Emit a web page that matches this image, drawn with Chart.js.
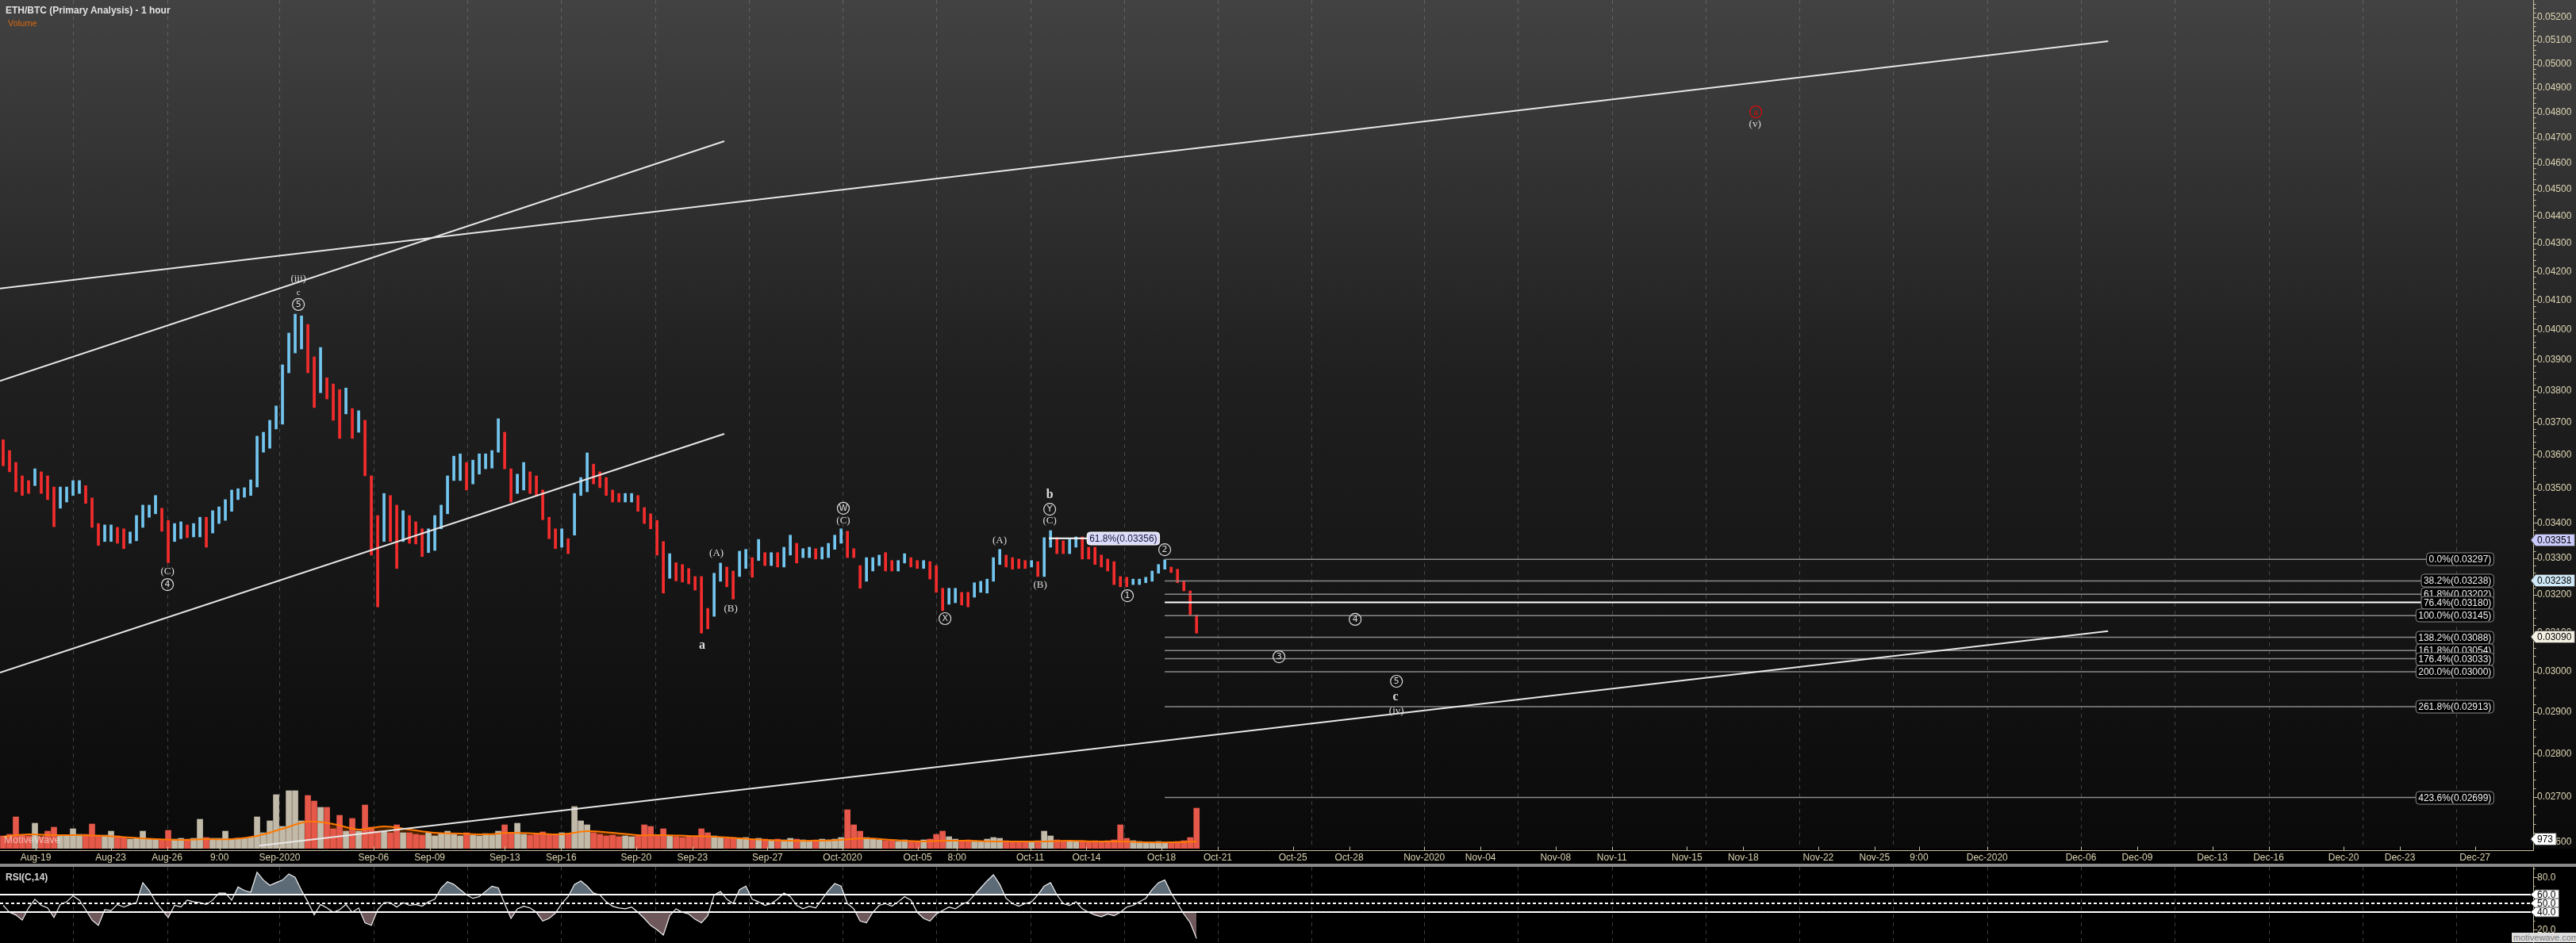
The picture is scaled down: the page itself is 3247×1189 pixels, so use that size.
<!DOCTYPE html>
<html>
<head>
<meta charset="utf-8">
<script src="https://cdn.jsdelivr.net/npm/chart.js@4.4.1/dist/chart.umd.min.js"></script>
<style>
  html, body { margin: 0; padding: 0; background: #000; }
  body { width: 3247px; height: 1189px; position: relative; overflow: hidden; font-family: Arial, "Liberation Sans", sans-serif; }
  #price { position: absolute; left: 0; top: 0; }
  #sep { position: absolute; left: 0; top: 1089px; width: 3247px; height: 4px; background: #8a8a8a; }
  #rsi { position: absolute; left: 0; top: 1093px; }
  .t { position: absolute; white-space: nowrap; }
</style>
</head>
<body>
<canvas id="price" width="3247" height="1089"></canvas>
<div id="sep"></div>
<canvas id="rsi" width="3247" height="96"></canvas>
<div class="t" style="left:7px;top:6px;font:bold 12px Arial;color:#e2e2e2">ETH/BTC (Primary Analysis) - 1 hour</div>
<div class="t" style="left:10px;top:23px;font:11px Arial;color:#d8680e">Volume</div>
<div class="t" style="left:5px;top:1051px;font:13px Arial;color:rgba(255,255,255,0.55)">MotiveWave</div>
<div class="t" style="left:7px;top:1099px;font:bold 12px Arial;color:#d8d8d8">RSI(C,14)</div>
<div class="t" style="left:3166px;top:1176px;font:11px Arial;color:#7a7a7a;background:#dedede;padding:0 2px">motivewave.com</div>
<script>
// x values are days counted from Aug-19 00:00
const xMin = -1.903, xMax = 133.1;
const yMin = 0.025855, yMax = 0.052765;
const volMax = 85600;

const firstBarDay = -1.734;   // first bar, left edge of the chart
const barStepDays = 0.3383;   // one bar = about 8 hours

const barHigh = [
  0.03646,0.03613,0.03577,0.03537,0.03523,0.03558,0.03549,0.03537,0.03504,0.03504,
  0.03504,0.03523,0.03523,0.03508,0.03472,0.03398,0.03394,0.03394,0.03387,0.03383,
  0.03374,0.03421,0.03451,0.03451,0.03479,0.03442,0.03407,0.03398,0.03403,0.03394,
  0.03398,0.03416,0.03416,0.03435,0.03446,0.03467,0.03495,0.03499,0.03502,0.03525,
  0.03657,0.03669,0.03706,0.03751,0.03883,0.03988,0.04052,0.04046,0.04017,0.03909,
  0.03940,0.03841,0.03821,0.03803,0.03808,0.03743,0.03736,0.03706,0.03537,0.03421,
  0.03485,0.03479,0.03451,0.03435,0.03421,0.03403,0.03383,0.03383,0.03421,0.03451,
  0.03537,0.03596,0.03603,0.03577,0.03584,0.03603,0.03603,0.03613,0.03711,0.03669,
  0.03558,0.03542,0.03577,0.03549,0.03537,0.03495,0.03416,0.03383,0.03383,0.03355,
  0.03485,0.03532,0.03606,0.03572,0.03549,0.03532,0.03495,0.03485,0.03485,0.03485,
  0.03479,0.03444,0.03426,0.03407,0.03347,0.03313,0.03288,0.03283,0.03272,0.03250,
  0.03250,0.03164,0.03259,0.03287,0.03276,0.03265,0.03320,0.03325,0.03302,0.03353,
  0.03316,0.03316,0.03316,0.03331,0.03365,0.03342,0.03327,0.03331,0.03327,0.03331,
  0.03342,0.03365,0.03383,0.03376,0.03327,0.03280,0.03302,0.03302,0.03309,0.03316,
  0.03294,0.03294,0.03313,0.03302,0.03294,0.03294,0.03291,0.03280,0.03218,0.03218,
  0.03218,0.03207,0.03207,0.03233,0.03237,0.03243,0.03302,0.03325,0.03309,0.03302,
  0.03298,0.03294,0.03294,0.03291,0.03358,0.03378,0.03358,0.03349,0.03353,0.03360,
  0.03360,0.03331,0.03331,0.03309,0.03298,0.03291,0.03250,0.03248,0.03243,0.03243,
  0.03248,0.03265,0.03283,0.03296,0.03276,0.03270,0.03237,0.03211,0.03147
];
const barLow = [
  0.03567,0.03549,0.03490,0.03479,0.03485,0.03508,0.03485,0.03467,0.03389,0.03442,
  0.03460,0.03479,0.03485,0.03456,0.03387,0.03336,0.03347,0.03347,0.03342,0.03327,
  0.03342,0.03349,0.03387,0.03416,0.03426,0.03376,0.03288,0.03347,0.03355,0.03358,
  0.03360,0.03360,0.03331,0.03371,0.03398,0.03407,0.03433,0.03467,0.03474,0.03479,
  0.03504,0.03608,0.03620,0.03679,0.03694,0.03857,0.03922,0.03935,0.03857,0.03746,
  0.03793,0.03773,0.03706,0.03650,0.03726,0.03650,0.03669,0.03537,0.03309,0.03168,
  0.03347,0.03347,0.03272,0.03347,0.03342,0.03340,0.03305,0.03316,0.03322,0.03383,
  0.03426,0.03523,0.03523,0.03495,0.03513,0.03542,0.03558,0.03560,0.03608,0.03558,
  0.03460,0.03485,0.03495,0.03485,0.03479,0.03409,0.03355,0.03327,0.03331,0.03313,
  0.03365,0.03479,0.03490,0.03513,0.03502,0.03479,0.03460,0.03460,0.03460,0.03460,
  0.03433,0.03398,0.03383,0.03309,0.03205,0.03245,0.03238,0.03235,0.03230,0.03213,
  0.03099,0.03110,0.03143,0.03237,0.03222,0.03189,0.03250,0.03272,0.03248,0.03294,
  0.03280,0.03280,0.03276,0.03276,0.03309,0.03287,0.03302,0.03302,0.03298,0.03298,
  0.03302,0.03325,0.03342,0.03302,0.03302,0.03218,0.03237,0.03265,0.03280,0.03265,
  0.03265,0.03265,0.03287,0.03276,0.03272,0.03272,0.03243,0.03207,0.03158,0.03175,
  0.03179,0.03173,0.03168,0.03194,0.03207,0.03205,0.03237,0.03283,0.03276,0.03270,
  0.03272,0.03272,0.03276,0.03250,0.03250,0.03331,0.03313,0.03313,0.03313,0.03331,
  0.03298,0.03298,0.03283,0.03276,0.03265,0.03228,0.03222,0.03222,0.03228,0.03228,
  0.03233,0.03237,0.03259,0.03270,0.03261,0.03233,0.03211,0.03147,0.03099
];
const volume = [
  1280,1440,3200,1360,1280,2560,1200,1760,2160,1360,
  1360,2000,1440,1440,2480,1360,1360,1760,1280,1120,
  960,1040,1760,960,960,960,1840,960,1040,960,
  1040,2960,1120,1040,1040,1760,960,1040,1040,1120,
  3200,1600,2800,5440,2240,5840,5840,2800,5360,4800,
  4160,4160,2000,3360,1760,3040,1760,4400,2160,1760,
  1760,1600,2400,1600,1600,1440,1360,1600,1280,1520,
  1760,1440,1280,1600,1360,1280,1520,1360,1760,2400,
  1600,2560,1440,1360,1520,1680,1440,1360,1600,1520,
  4240,2800,2400,1600,1440,1280,1360,1200,1280,1200,
  1280,2400,2240,1360,2000,1280,1200,1120,1200,1280,
  2000,1600,1280,1120,1040,1120,1040,1120,960,1040,
  960,880,960,880,1040,960,880,800,880,960,
  880,960,1120,3920,2400,1760,1120,960,880,800,
  800,720,880,800,800,880,960,1440,1760,1200,
  960,800,880,800,720,960,1120,1040,800,720,
  720,640,720,800,1760,1280,880,800,720,720,
  800,720,800,720,800,880,2400,1040,800,720,
  640,640,720,640,640,720,800,1120,4080
];
// volume moving average, one value every 4 bars
const volumeMA = [
  1200,1440,1360,1360,1280,1120,960,880,960,960,
  1280,2000,2720,2480,1920,2240,1920,1600,1520,1440,
  1600,1520,1440,1760,1600,1360,1360,1280,1200,1040,
  880,800,800,880,1040,880,720,800,800,720,
  720,720,800,720,720,640,640,720
];
const rsi = [
  48,40,37,31,45,55,48,45,34,49,
  52,59,54,43,31,25,43,42,49,46,
  49,51,74,65,52,43,34,48,46,54,
  52,51,49,54,62,62,54,69,65,63,
  86,77,71,74,77,84,80,65,52,37,
  49,45,40,43,49,40,45,28,25,43,
  51,51,46,51,48,49,47,52,55,68,
  75,72,66,60,56,58,64,70,68,50,
  33,44,47,45,40,30,33,39,50,58,
  72,76,70,62,60,52,47,45,44,46,
  40,33,25,20,14,36,44,40,38,32,
  28,36,60,64,55,50,66,70,55,52,
  48,50,55,62,58,48,44,47,45,55,
  65,73,70,50,44,30,28,40,48,50,
  47,52,58,54,40,33,30,38,42,46,
  44,49,52,60,68,76,83,72,56,50,
  47,50,52,60,70,74,60,50,48,52,
  44,40,37,35,38,36,40,46,48,52,
  56,66,74,77,62,50,38,28,10
];

const priceTicks = [0.026,0.027,0.028,0.029,0.030,0.031,0.032,0.033,0.034,0.035,0.036,0.037,0.038,0.039,
  0.040,0.041,0.042,0.043,0.044,0.045,0.046,0.047,0.048,0.049,0.050,0.051,0.052];
const xTickDays = [0,4,7,9.8,13,18,21,25,28,32,35,39,43,47,49.1,53,56,60,63,67,70,74,77,81,84,88,91,95,98,100.375,
  104,109,112,116,119,123,126,130];
const xTickLabels = ['Aug-19','Aug-23','Aug-26','9:00','Sep-2020','Sep-06','Sep-09','Sep-13','Sep-16','Sep-20',
  'Sep-23','Sep-27','Oct-2020','Oct-05','8:00','Oct-11','Oct-14','Oct-18','Oct-21','Oct-25','Oct-28','Nov-2020',
  'Nov-04','Nov-08','Nov-11','Nov-15','Nov-18','Nov-22','Nov-25','9:00','Dec-2020','Dec-06','Dec-09','Dec-13',
  'Dec-16','Dec-20','Dec-23','Dec-27'];
const gridDays = [2,7,13,18,23,28,33,38,43,48,53,58,63,68,74,79,84,89,94,99,104,109,114,119,124,129];

// trendlines: [day1, price1, day2, price2]
const trendLines = [
  [-1.903, 0.04140, 110.45, 0.05097],
  [-1.903, 0.03831, 36.70, 0.04686],
  [-1.903, 0.02998, 36.70, 0.03664],
  [11.92, 0.02592, 110.45, 0.03104]
];
const fibPct = ['0.0%','38.2%','61.8%','76.4%','100.0%','138.2%','161.8%','176.4%','200.0%','261.8%','423.6%'];
const fibPrice = [0.03297,0.03238,0.03202,0.03180,0.03145,0.03088,0.03054,0.03033,0.03000,0.02913,0.02699];
const fibStartDay = 60.17, fibEndDay = 131.0;

const waveLabels = [
  ['(C)', 7.02, 0.03263, 'paren'], ['4', 7.02, 0.03228, 'circle'],
  ['(iii)', 14.0, 0.04173, 'paren'], ['c', 14.0, 0.04126, 'small'], ['5', 14.0, 0.04085, 'circle'],
  ['a', 35.52, 0.03067, 'big'],
  ['(A)', 36.28, 0.03315, 'paren'], ['(B)', 37.04, 0.03164, 'paren'],
  ['W', 43.04, 0.03442, 'circle'], ['(C)', 43.04, 0.03405, 'paren'],
  ['X', 48.46, 0.03137, 'circle'],
  ['(A)', 51.37, 0.03349, 'paren'], ['(B)', 53.53, 0.03228, 'paren'],
  ['b', 54.04, 0.03481, 'big'], ['Y', 54.04, 0.03439, 'circle'], ['(C)', 54.04, 0.03407, 'paren'],
  ['1', 58.18, 0.03198, 'circle'], ['2', 60.17, 0.03324, 'circle'],
  ['4', 70.32, 0.03135, 'circle'], ['3', 66.26, 0.03038, 'circle'],
  ['5', 72.52, 0.02976, 'circle'], ['c', 72.47, 0.02937, 'big'], ['(iv)', 72.52, 0.02903, 'paren'],
  ['a', 91.67, 0.04803, 'redcircle'], ['(v)', 91.63, 0.04755, 'paren']
];
const retrace = { pct: '61.8%', price: 0.03356, fromDay: 54.0, toDay: 56.03 };
const axisTags = [[0.03351, '#cacafc'], [0.03238, '#cfe9f8'], [0.03090, '#f4f0e2']];
const lastVolume = 973;

const barDay = barHigh.map((_, i) => firstBarDay + i * barStepDays);
const up = barHigh.map((h, i) => i > 0 && (h + barLow[i]) >= (barHigh[i - 1] + barLow[i - 1]));
const axisColor = '#c9c1a1';
const labelColor = '#dcd4b2';

function noPad(s) { s.paddingTop = 0; s.paddingBottom = 0; s.paddingLeft = 0; s.paddingRight = 0; }

function drawGrid(chart, top, bottom, color) {
  const ctx = chart.ctx, xs = chart.scales.x;
  ctx.save();
  ctx.strokeStyle = color;
  ctx.lineWidth = 1;
  ctx.setLineDash([5, 5]);
  gridDays.forEach(d => {
    const x = Math.round(xs.getPixelForValue(d)) + 0.5;
    ctx.beginPath(); ctx.moveTo(x, top); ctx.lineTo(x, bottom); ctx.stroke();
  });
  ctx.restore();
}

function tag(ctx, x, y, text, bg, h) {
  ctx.font = '12px Arial';
  const w = ctx.measureText(text).width + 6;
  ctx.beginPath();
  ctx.moveTo(x, y);
  ctx.lineTo(x + 6, y - h / 2);
  ctx.lineTo(x + 6 + w, y - h / 2);
  ctx.lineTo(x + 6 + w, y + h / 2);
  ctx.lineTo(x + 6, y + h / 2);
  ctx.closePath();
  ctx.fillStyle = bg; ctx.fill();
  ctx.strokeStyle = '#555'; ctx.lineWidth = 1; ctx.stroke();
  ctx.fillStyle = '#000'; ctx.textAlign = 'left'; ctx.textBaseline = 'middle';
  ctx.fillText(text, x + 8, y + 0.5);
}

function box(ctx, xRight, xLeft, y, text, fill, stroke, color) {
  ctx.font = '12px Arial';
  const w = ctx.measureText(text).width + 6;
  const left = xRight !== null ? xRight - w : xLeft;
  ctx.beginPath();
  if (ctx.roundRect) ctx.roundRect(left, y - 8, w, 16, 4); else ctx.rect(left, y - 8, w, 16);
  ctx.fillStyle = fill; ctx.fill();
  ctx.strokeStyle = stroke; ctx.lineWidth = 1; ctx.stroke();
  ctx.fillStyle = color; ctx.textAlign = 'left'; ctx.textBaseline = 'middle';
  ctx.fillText(text, left + 3, y + 0.5);
}

const priceDecor = {
  id: 'priceDecor',
  beforeDraw(chart) {
    const { ctx, chartArea: a } = chart;
    ctx.save();
    const g = ctx.createLinearGradient(0, 0, 0, a.bottom);
    g.addColorStop(0, '#424242');
    g.addColorStop(0.45, '#1f1f1f');
    g.addColorStop(1, '#0a0a0a');
    ctx.fillStyle = g;
    ctx.fillRect(0, 0, chart.width, a.bottom);
    ctx.fillStyle = '#000';
    ctx.fillRect(0, a.bottom, chart.width, chart.height - a.bottom);
    ctx.restore();
    drawGrid(chart, 0, a.bottom, 'rgba(150,150,150,0.38)');
  },
  afterDatasetsDraw(chart) {
    const { ctx, scales: { x, y } } = chart;
    ctx.save();
    // fib labels
    fibPct.forEach((p, i) => {
      box(ctx, x.getPixelForValue(fibEndDay), null, Math.round(y.getPixelForValue(fibPrice[i])),
        p + '(' + fibPrice[i].toFixed(5) + ')', '#000', '#8c8c8c', '#f2f2f2');
    });
    // retracement label
    box(ctx, null, x.getPixelForValue(retrace.toDay), Math.round(y.getPixelForValue(retrace.price)),
      retrace.pct + '(' + retrace.price.toFixed(5) + ')', '#dcdcfa', '#ffffff', '#141438');
    // wave labels
    waveLabels.forEach(([t, d, p, kind]) => {
      const px = x.getPixelForValue(d), py = y.getPixelForValue(p);
      ctx.textAlign = 'center'; ctx.textBaseline = 'middle';
      if (kind === 'circle' || kind === 'redcircle') {
        const c = kind === 'circle' ? '#dcdcdc' : '#e00a0a';
        ctx.beginPath(); ctx.arc(px, py, 7.5, 0, Math.PI * 2);
        ctx.strokeStyle = c; ctx.lineWidth = 1.2; ctx.stroke();
        ctx.fillStyle = c;
        ctx.font = kind === 'circle' ? '11px "DejaVu Sans"' : '12px "Liberation Serif"';
        ctx.fillText(t, px, py + 0.5);
      } else {
        ctx.fillStyle = '#dcdcdc';
        ctx.font = kind === 'big' ? 'bold 16px "Liberation Serif"' :
                   kind === 'small' ? '11px "Liberation Serif"' : '13px "Liberation Serif"';
        ctx.fillText(t, px, py);
      }
    });
    ctx.restore();
  },
  afterDraw(chart) {
    const { ctx, chartArea: a, scales: { x, y, yv } } = chart;
    ctx.save();
    ctx.strokeStyle = axisColor; ctx.lineWidth = 1;
    const ax = a.right + 0.5, ay = a.bottom + 2.5;
    ctx.beginPath(); ctx.moveTo(ax, 0); ctx.lineTo(ax, ay); ctx.lineTo(0, ay); ctx.stroke();
    // price ticks, minor every 0.0002
    for (let k = 130; k <= 263; k++) {
      const yy = Math.round(y.getPixelForValue(k * 0.0002)) + 0.5;
      const len = k % 5 === 0 ? 5 : 3;
      ctx.beginPath(); ctx.moveTo(ax, yy); ctx.lineTo(ax + len, yy); ctx.stroke();
    }
    xTickDays.forEach(d => {
      const xx = Math.round(x.getPixelForValue(d)) + 0.5;
      ctx.beginPath(); ctx.moveTo(xx, ay); ctx.lineTo(xx, ay - 5); ctx.stroke();
    });
    axisTags.forEach(([p, bg]) => tag(ctx, a.right - 3, Math.round(y.getPixelForValue(p)), p.toFixed(5), bg, 15));
    tag(ctx, a.right - 3, Math.round(yv.getPixelForValue(lastVolume)), String(lastVolume), '#ffffff', 15);
    ctx.restore();
  }
};

const datasets = [
  { type: 'line', yAxisID: 'yv', order: 10,
    data: volumeMA.map((v, k) => ({ x: barDay[k * 4], y: v })),
    fill: 'origin', backgroundColor: '#4a2200', borderWidth: 0, pointRadius: 0, tension: 0.35 },
  { type: 'bar', yAxisID: 'yv', order: 9, grouped: false, barThickness: 7,
    data: volume.map((v, i) => ({ x: barDay[i], y: v })),
    backgroundColor: up.map(u => u ? '#c2baa9' : '#e5584a') },
  { type: 'line', yAxisID: 'yv', order: 8,
    data: volumeMA.map((v, k) => ({ x: barDay[k * 4], y: v })),
    fill: false, borderColor: '#ff7800', borderWidth: 2, pointRadius: 0, tension: 0.35 },
  { type: 'bar', yAxisID: 'y', order: 5, grouped: false, barThickness: 3,
    data: barHigh.map((h, i) => ({ x: barDay[i], y: [barLow[i], h] })),
    backgroundColor: up.map(u => u ? '#73c6f0' : '#f42c2c') }
];
fibPrice.forEach((p, i) => datasets.push({
  type: 'line', yAxisID: 'y', order: 4,
  data: [{ x: fibStartDay, y: p }, { x: fibEndDay, y: p }],
  borderColor: fibPct[i] === '76.4%' ? '#ffffff' : '#8a8a8a', borderWidth: fibPct[i] === '76.4%' ? 2 : 1.5,
  pointRadius: 0, fill: false
}));
datasets.push({
  type: 'line', yAxisID: 'y', order: 4,
  data: [{ x: retrace.fromDay, y: retrace.price }, { x: retrace.toDay, y: retrace.price }],
  borderColor: '#ffffff', borderWidth: 2, pointRadius: 0, fill: false
});
trendLines.forEach(t => datasets.push({
  type: 'line', yAxisID: 'y', order: 3,
  data: [{ x: t[0], y: t[1] }, { x: t[2], y: t[3] }],
  borderColor: '#e6e6e6', borderWidth: 2, pointRadius: 0, fill: false
}));

new Chart(document.getElementById('price'), {
  type: 'bar',
  data: { datasets },
  options: {
    responsive: false, animation: false, devicePixelRatio: 1,
    layout: { padding: 0 },
    plugins: { legend: { display: false }, tooltip: { enabled: false } },
    scales: {
      x: {
        type: 'linear', min: xMin, max: xMax, offset: false, bounds: 'data',
        grid: { display: false, drawTicks: false }, border: { display: false },
        afterBuildTicks: s => { s.ticks = xTickDays.map(v => ({ value: v })); },
        afterFit: s => { s.height = 19; noPad(s); },
        ticks: { autoSkip: false, maxRotation: 0, minRotation: 0, padding: 4, color: labelColor,
          font: { size: 12, family: 'Arial' }, callback: (v, i) => xTickLabels[i] }
      },
      y: {
        type: 'logarithmic', position: 'right', min: yMin, max: yMax, bounds: 'data',
        grid: { display: false, drawTicks: false }, border: { display: false },
        afterBuildTicks: s => { s.ticks = priceTicks.map(v => ({ value: v })); },
        afterFit: s => { s.width = 54; noPad(s); },
        ticks: { autoSkip: false, padding: 5, color: labelColor,
          font: { size: 12, family: 'Arial' }, callback: v => Number(v).toFixed(5) }
      },
      yv: { type: 'linear', display: false, min: 0, max: volMax, bounds: 'data' }
    }
  },
  plugins: [priceDecor]
});

// RSI panel
const rsiDecor = {
  id: 'rsiDecor',
  beforeDraw(chart) {
    const ctx = chart.ctx;
    ctx.save(); ctx.fillStyle = '#000'; ctx.fillRect(0, 0, chart.width, chart.height); ctx.restore();
    drawGrid(chart, 0, chart.height, 'rgba(120,120,120,0.5)');
  },
  afterDatasetsDraw(chart) {
    const { ctx, chartArea: a, scales: { y } } = chart;
    ctx.save();
    ctx.strokeStyle = '#ffffff'; ctx.lineWidth = 2;
    [60, 40].forEach(v => {
      const yy = Math.round(y.getPixelForValue(v));
      ctx.beginPath(); ctx.moveTo(0, yy); ctx.lineTo(a.right, yy); ctx.stroke();
    });
    ctx.setLineDash([4, 3]);
    const y50 = Math.round(y.getPixelForValue(50));
    ctx.beginPath(); ctx.moveTo(0, y50); ctx.lineTo(a.right, y50); ctx.stroke();
    ctx.restore();
  },
  afterDraw(chart) {
    const { ctx, chartArea: a, scales: { y } } = chart;
    ctx.save();
    ctx.strokeStyle = axisColor; ctx.lineWidth = 1;
    const ax = a.right + 0.5;
    ctx.beginPath(); ctx.moveTo(ax, 0); ctx.lineTo(ax, chart.height); ctx.stroke();
    for (let v = 10; v <= 90; v += 10) {
      const yy = Math.round(y.getPixelForValue(v)) + 0.5;
      ctx.beginPath(); ctx.moveTo(ax, yy); ctx.lineTo(ax + (v % 20 === 0 ? 5 : 2), yy); ctx.stroke();
    }
    [60, 50, 40].forEach(v => tag(ctx, a.right - 3, Math.round(y.getPixelForValue(v)), v.toFixed(1), '#ffffff', 12));
    ctx.restore();
  }
};

const rsiPoints = rsi.map((v, i) => ({ x: barDay[i], y: v }));
new Chart(document.getElementById('rsi'), {
  type: 'line',
  data: {
    datasets: [
      { data: rsiPoints, order: 3, borderWidth: 0, pointRadius: 0,
        fill: { target: { value: 60 }, above: '#5d6b77', below: 'rgba(0,0,0,0)' } },
      { data: rsiPoints, order: 2, borderWidth: 0, pointRadius: 0,
        fill: { target: { value: 40 }, above: 'rgba(0,0,0,0)', below: '#6f585b' } },
      { data: rsiPoints, order: 1, borderColor: '#f0f0f0', borderWidth: 1.2, pointRadius: 0, fill: false }
    ]
  },
  options: {
    responsive: false, animation: false, devicePixelRatio: 1,
    layout: { padding: 0 },
    plugins: { legend: { display: false }, tooltip: { enabled: false } },
    scales: {
      x: { type: 'linear', min: xMin, max: xMax, display: false, offset: false, bounds: 'data' },
      y: {
        type: 'linear', position: 'right', min: 4.8, max: 92.1, bounds: 'data',
        grid: { display: false, drawTicks: false }, border: { display: false },
        afterBuildTicks: s => { s.ticks = [20, 80].map(v => ({ value: v })); },
        afterFit: s => { s.width = 54; noPad(s); },
        ticks: { autoSkip: false, padding: 5, color: labelColor,
          font: { size: 12, family: 'Arial' }, callback: v => Number(v).toFixed(1) }
      }
    }
  },
  plugins: [rsiDecor]
});
</script>
</body>
</html>
